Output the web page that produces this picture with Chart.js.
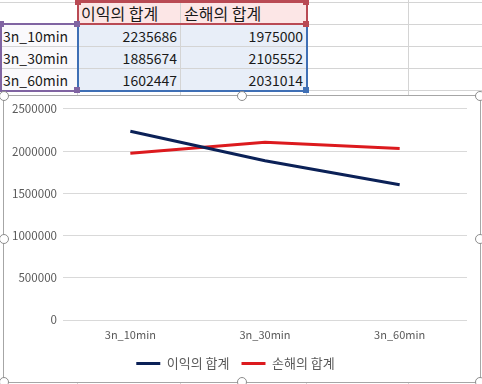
<!DOCTYPE html>
<html><head><meta charset="utf-8">
<script src="https://cdn.jsdelivr.net/npm/chart.js@4.4.1/dist/chart.umd.min.js"></script>
<style>
html,body{margin:0;padding:0;background:#fff;width:482px;height:384px;overflow:hidden;font-family:"Noto Sans CJK KR","Noto Sans",sans-serif;}
#sheet{position:absolute;left:0;top:0;width:482px;height:384px;}
.gl{position:absolute;background:#d4d4d4;}
.fill{position:absolute;}
.cell{position:absolute;font-size:14px;line-height:22px;height:22px;color:#1a1a1a;white-space:nowrap;box-sizing:border-box;}
.kr{font-size:16px;}
.sel{position:absolute;box-sizing:border-box;border:2px solid;}
.sq{position:absolute;width:6px;height:6px;}
#chartBox{position:absolute;left:3px;top:95px;width:478px;height:288px;box-sizing:border-box;border:1px solid #a6a6a6;background:#fff;}
#cv{position:absolute;left:0px;top:0px;}
.hd{position:absolute;width:8px;height:8px;border-radius:50%;border:1px solid #8c8c8c;background:#fff;}
</style>
</head><body>
<div id="sheet"></div>
<div id="chartBox"><canvas id="cv" width="476" height="286"></canvas></div>
<script>
const categories = ['3n_10min', '3n_30min', '3n_60min'];
const seriesNames = ['이익의 합계', '손해의 합계'];
const profit = [2235686, 1885674, 1602447];
const loss = [1975000, 2105552, 2031014];
const yTickLabels = ['0', '500000', '1000000', '1500000', '2000000', '2500000'];

const sheet = document.getElementById('sheet');
function add(cls, style, text) {
  const d = document.createElement('div');
  d.className = cls;
  Object.assign(d.style, style);
  if (text !== undefined) d.textContent = text;
  sheet.appendChild(d);
  return d;
}
const colX = [0, 77, 180, 306, 408, 482];
const rowY = [2, 24, 46, 68, 90];
// fills
add('fill', {left:'77px', top:'2px', width:'229px', height:'22px', background:'#fce6e6'});
add('fill', {left:'77px', top:'24px', width:'229px', height:'66px', background:'#e8eef8'});
add('fill', {left:'0px', top:'24px', width:'77px', height:'66px', background:'#faf9fc'});
// gridlines
rowY.forEach(y => add('gl', {left:'0px', top:y+'px', width:'482px', height:'1px'}));
[77,180,306,408].forEach(x => add('gl', {left:x+'px', top:'0px', width:'1px', height:'384px'}));
// header text
seriesNames.forEach((n, i) => add('cell kr', {left:(colX[i+1]+4)+'px', top:(rowY[0])+'px'}, n));
// data rows
const series = [profit, loss];
categories.forEach((c, r) => {
  add('cell', {left:'3px', top:(rowY[r+1]+1)+'px'}, c);
  series.forEach((s, i) => {
    add('cell', {left:colX[i+1]+'px', top:(rowY[r+1]+1)+'px', width:(colX[i+2]-colX[i+1]-3)+'px', textAlign:'right'}, String(s[r]));
  });
});
// selection borders
add('sel', {left:'0px', top:'23px', width:'79px', height:'69px', borderColor:'#8064a2'});
add('sel', {left:'77px', top:'23px', width:'231px', height:'69px', borderColor:'#3f6fb5'});
add('sel', {left:'77px', top:'0px', width:'231px', height:'25px', borderColor:'#b94a54', borderTop:'3px solid #b94a54'});
[[77,0,'#b94a54'],[305,0,'#b94a54'],[305,22,'#b94a54'],[0,22,'#8064a2'],[76,22,'#8064a2'],[76,88,'#8064a2'],[305,88,'#3f6fb5']].forEach(([x,y,c]) =>
  add('sq', {left:(x-2)+'px', top:(y-1)+'px', background:c}));

// chart handles
const box = document.getElementById('chartBox');
[[0,0],[238,0],[476,0],[0,143],[476,143],[0,286],[238,286],[476,286]].forEach(([x,y]) => {
  const h = document.createElement('div');
  h.className = 'hd';
  h.style.left = (x-5)+'px'; h.style.top = (y-5)+'px';
  box.appendChild(h);
});

const font = {family:'"Noto Sans CJK KR","Noto Sans",sans-serif'};
new Chart(document.getElementById('cv'), {
  type: 'line',
  data: {
    labels: categories,
    datasets: [
      {label: seriesNames[0], data: profit, borderColor:'#0b2157', backgroundColor:'#0b2157', borderWidth:3, pointRadius:0, tension:0},
      {label: seriesNames[1], data: loss, borderColor:'#dc1a1e', backgroundColor:'#dc1a1e', borderWidth:3, pointRadius:0, tension:0}
    ]
  },
  options: {
    responsive:false, animation:false,
    layout:{padding:{top:11, right:13, bottom:2, left:0}},
    plugins:{
      tooltip:{enabled:false},
      legend:{
        position:'bottom',
        labels:{
          boxWidth:24, boxHeight:3, padding:12, color:'#595959',
          font:{...font, size:13},
          generateLabels(chart){
            return Chart.defaults.plugins.legend.labels.generateLabels(chart).map(l => ({...l, lineWidth:0}));
          }
        }
      }
    },
    scales:{
      x:{
        offset:true,
        grid:{display:false, drawTicks:false},
        border:{display:false},
        ticks:{color:'#595959', font:{...font, size:11}, padding:8, maxRotation:0},
        afterFit(s){ s.height = 25; }
      },
      y:{
        min:0, max:2500000,
        grid:{color:'#d9d9d9', drawTicks:false},
        border:{display:false},
        ticks:{stepSize:500000, color:'#595959', font:{...font, size:11.6}, padding:6,
          callback:(v, i) => yTickLabels[i]},
        afterFit(s){ s.width = 59; }
      }
    }
  }
});
</script>
</body></html>
